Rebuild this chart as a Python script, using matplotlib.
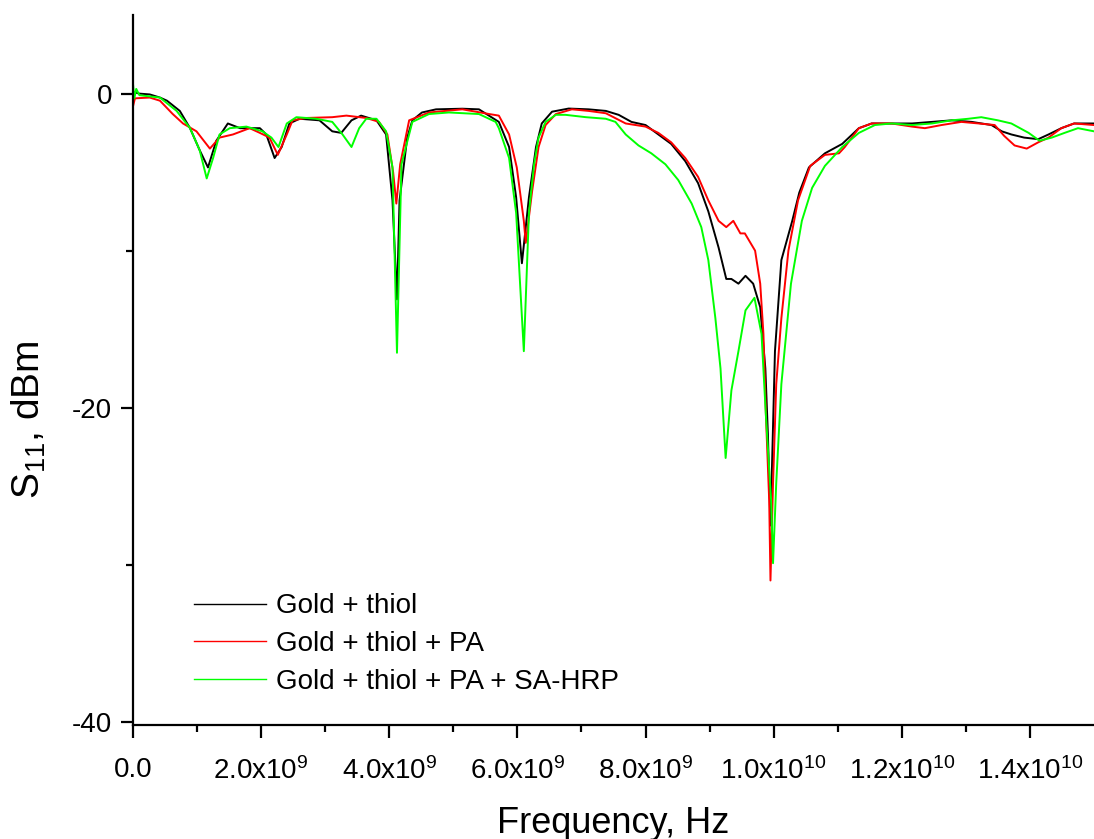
# %% Biblioteki
import matplotlib.pyplot as plt
import numpy as np

plt.rcParams["font.family"] = ["Liberation Sans", "DejaVu Sans"]
plt.rcParams["mathtext.fontset"] = "custom"
plt.rcParams["mathtext.rm"] = "Liberation Sans"
plt.rcParams["mathtext.it"] = "Liberation Sans"
plt.rcParams["axes.unicode_minus"] = False

# %% Dane (częstotliwość w GHz, S11 w dB)
f_gold = [0.0, 0.1, 0.26, 0.42, 0.53, 0.73, 0.89, 1.04, 1.17, 1.3, 1.48, 1.67,
          1.98, 2.08, 2.21, 2.32, 2.44, 2.6, 2.91, 3.11, 3.25, 3.41, 3.56, 3.8,
          3.95, 4.05, 4.12, 4.16, 4.28, 4.36, 4.51, 4.73, 5.14, 5.4, 5.71, 5.87,
          5.98, 6.07, 6.18, 6.29, 6.38, 6.54, 6.8, 7.11, 7.38, 7.58, 7.78, 8.0,
          8.2, 8.4, 8.62, 8.82, 8.98, 9.14, 9.26, 9.34, 9.45, 9.56, 9.68, 9.79,
          9.87, 9.91, 9.95, 10.02, 10.12, 10.29, 10.4, 10.55, 10.8, 11.07,
          11.33, 11.53, 11.84, 12.16, 12.47, 12.78, 13.09, 13.4, 13.56, 13.71,
          13.91, 14.13, 14.29, 14.49, 14.69, 15.0]
s_gold = [0.1, 0.0, -0.05, -0.25, -0.45, -1.1, -2.2, -3.6, -4.7, -3.0, -1.9,
          -2.2, -2.2, -2.6, -4.1, -3.4, -1.9, -1.6, -1.7, -2.4, -2.5, -1.7,
          -1.4, -1.7, -2.6, -6.8, -13.1, -6.8, -2.8, -1.7, -1.2, -1.0, -0.96,
          -1.0, -1.8, -3.4, -6.6, -10.8, -6.6, -3.4, -1.9, -1.15, -0.95, -1.0,
          -1.1, -1.35, -1.8, -2.0, -2.6, -3.2, -4.3, -5.7, -7.5, -9.8, -11.8,
          -11.8, -12.1, -11.6, -12.1, -13.6, -17.5, -21.7, -27.5, -16.4, -10.6,
          -8.1, -6.3, -4.7, -3.8, -3.2, -2.2, -1.9, -1.9, -1.9, -1.8, -1.7,
          -1.8, -2.0, -2.4, -2.6, -2.8, -2.9, -2.6, -2.2, -1.9, -1.9]

f_pa = [0.0, 0.03, 0.26, 0.42, 0.62, 0.78, 0.99, 1.2, 1.35, 1.56, 1.82, 1.98,
        2.13, 2.26, 2.4, 2.49, 2.7, 3.11, 3.33, 3.64, 3.84, 3.97, 4.06, 4.11,
        4.17, 4.31, 4.62, 5.14, 5.56, 5.71, 5.87, 5.99, 6.1, 6.13, 6.23, 6.33,
        6.44, 6.6, 6.85, 7.11, 7.38, 7.69, 8.0, 8.2, 8.4, 8.62, 8.82, 8.98,
        9.14, 9.26, 9.37, 9.48, 9.55, 9.71, 9.79, 9.84, 9.88, 9.93, 9.95,
        9.99, 10.04, 10.12, 10.23, 10.38, 10.57, 10.8, 11.02, 11.11, 11.33,
        11.53, 11.84, 12.16, 12.36, 12.62, 12.93, 13.2, 13.45, 13.6, 13.76,
        13.95, 14.13, 14.29, 14.49, 14.69, 15.0]
s_pa = [-0.8, -0.3, -0.25, -0.45, -1.3, -1.9, -2.4, -3.5, -2.8, -2.6, -2.2,
        -2.5, -2.8, -3.9, -2.6, -1.7, -1.55, -1.5, -1.4, -1.55, -1.8, -2.6,
        -5.0, -7.0, -4.5, -1.7, -1.2, -1.0, -1.3, -1.4, -2.6, -4.7, -8.1,
        -9.5, -6.2, -3.4, -2.0, -1.3, -1.0, -1.1, -1.25, -1.9, -2.1, -2.5,
        -3.1, -4.1, -5.3, -6.8, -8.1, -8.5, -8.1, -8.9, -8.9, -10.0, -12.1,
        -15.3, -20.6, -25.9, -31.0, -24.8, -18.5, -14.3, -10.0, -6.8, -4.6,
        -3.9, -3.8, -3.4, -2.2, -1.9, -1.9, -2.1, -2.2, -2.0, -1.8, -1.9,
        -2.0, -2.7, -3.3, -3.5, -3.1, -2.8, -2.2, -1.9, -2.0]

f_hrp = [0.0, 0.02, 0.05, 0.1, 0.42, 0.68, 0.89, 1.04, 1.15, 1.25, 1.35, 1.51,
         1.77, 2.02, 2.16, 2.27, 2.4, 2.55, 2.86, 3.11, 3.27, 3.41, 3.53,
         3.64, 3.8, 3.95, 4.05, 4.12, 4.19, 4.36, 4.62, 4.93, 5.4, 5.66, 5.71,
         5.87, 5.98, 6.1, 6.18, 6.26, 6.33, 6.44, 6.6, 6.75, 7.07, 7.38, 7.53,
         7.69, 7.89, 8.09, 8.31, 8.51, 8.72, 8.87, 8.98, 9.09, 9.17, 9.25,
         9.34, 9.45, 9.56, 9.7, 9.81, 9.88, 9.96, 9.99, 10.04, 10.12, 10.27,
         10.44, 10.6, 10.8, 11.07, 11.33, 11.58, 11.84, 12.16, 12.47, 12.78,
         13.04, 13.24, 13.5, 13.71, 13.98, 14.15, 14.34, 14.54, 14.75, 15.0]
s_hrp = [0.6, -0.3, 0.3, -0.1, -0.25, -1.1, -2.2, -3.6, -5.4, -4.1, -2.6,
         -2.2, -2.1, -2.4, -2.8, -3.4, -1.9, -1.5, -1.6, -1.8, -2.6, -3.4,
         -2.2, -1.6, -1.6, -2.4, -4.7, -16.5, -4.5, -1.8, -1.3, -1.2, -1.3,
         -1.8, -2.2, -4.1, -7.6, -16.4, -7.6, -4.5, -2.8, -1.8, -1.35, -1.35,
         -1.5, -1.6, -1.8, -2.6, -3.3, -3.8, -4.5, -5.5, -7.0, -8.5, -10.6,
         -14.3, -17.5, -23.2, -18.9, -16.4, -13.8, -13.0, -15.3, -20.6, -25.9,
         -29.9, -24.8, -18.5, -12.1, -8.1, -6.0, -4.6, -3.4, -2.5, -2.0, -1.9,
         -2.0, -1.9, -1.7, -1.6, -1.5, -1.7, -1.9, -2.5, -3.0, -2.8, -2.5,
         -2.2, -2.4]

xticks = [0, 2e9, 4e9, 6e9, 8e9, 1e10, 1.2e10, 1.4e10]
xtick_labels = ["0.0", "2.0x10$^{9}$", "4.0x10$^{9}$", "6.0x10$^{9}$",
                "8.0x10$^{9}$", "1.0x10$^{10}$", "1.2x10$^{10}$",
                "1.4x10$^{10}$"]

# %% Wykres
fig = plt.figure(figsize=(10.94, 8.39), dpi=100)
ax = fig.add_axes([0.1216, 0.1359, 0.8784, 0.8461])

ax.plot(np.array(f_gold) * 1e9, s_gold, color="black", lw=1.4,
        label="Gold + thiol")
ax.plot(np.array(f_pa) * 1e9, s_pa, color="#ff0000", lw=1.4,
        label="Gold + thiol + PA")
ax.plot(np.array(f_hrp) * 1e9, s_hrp, color="#00ff00", lw=1.4,
        label="Gold + thiol + PA + SA-HRP")

ax.set_xlim(0, 1.5e10)
ax.set_ylim(-40.2, 5)
ax.set_xticks(xticks)
ax.set_xticklabels(xtick_labels)
ax.set_xticks(np.arange(1e9, 1.5e10, 2e9), minor=True)
ax.set_yticks([0, -20, -40])
ax.set_yticks([-10, -30], minor=True)

for side in ["top", "right"]:
    ax.spines[side].set_visible(False)
for side in ["left", "bottom"]:
    ax.spines[side].set_linewidth(1.6)

ax.tick_params(which="major", direction="out", length=9, width=1.6,
               labelsize=20, pad=6)
ax.tick_params(axis="x", which="major", pad=14)
ax.tick_params(which="minor", direction="out", length=5, width=1.6)

ax.set_xlabel("Frequency, Hz", fontsize=26, labelpad=15)
ax.set_ylabel("S$_{11}$, dBm", fontsize=28)
ax.yaxis.set_label_coords(-0.088, 0.43)

leg = ax.legend(loc="center left", bbox_to_anchor=(0.0635, 0.114),
                frameon=False, fontsize=20, handlelength=2.6,
                handletextpad=0.35, labelspacing=0.42, borderpad=0,
                borderaxespad=0)
for line in leg.get_lines():
    line.set_linewidth(1.0)

fig.savefig("out.png", dpi=100)
